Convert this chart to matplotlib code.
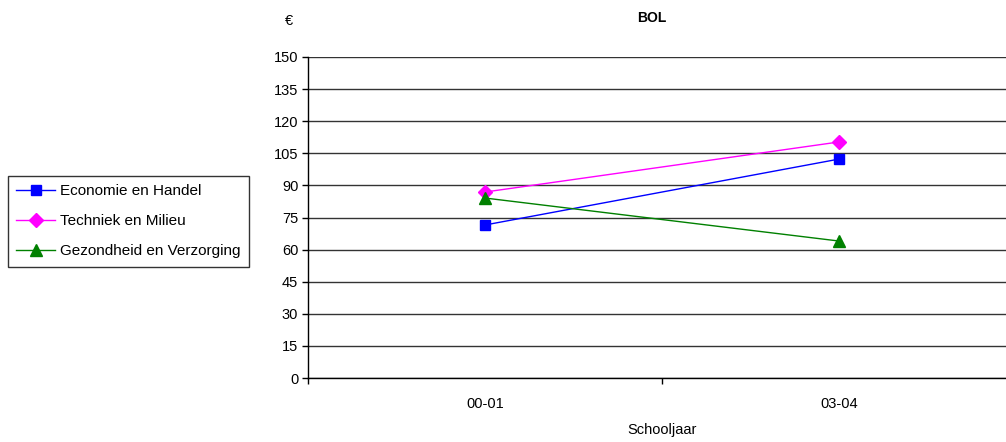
import matplotlib.pyplot as plt
import numpy as np

plt.rcParams['font.family'] = ['Liberation Sans', 'DejaVu Sans']

years = ['00-01', '03-04']
economie = [71.5, 102.3]
techniek = [86.9, 110.3]
gezondheid = [84.1, 64.0]
yticks = list(range(0, 151, 15))

W, H = 1006, 442
fig = plt.figure(figsize=(W / 100, H / 100), dpi=100)
# plot area runs a little past the right edge of the picture
ax = fig.add_axes([308 / W, 1 - 378 / H, (1016 - 308) / W, (378 - 57) / H])

x = np.arange(len(years))
ax.plot(x, economie, color='#0000ff', lw=1, marker='s', ms=7.5, label='Economie en Handel', clip_on=False)
ax.plot(x, techniek, color='#ff00ff', lw=1, marker='D', ms=7, label='Techniek en Milieu', clip_on=False)
ax.plot(x, gezondheid, color='#008000', lw=1, marker='^', ms=8.5, label='Gezondheid en Verzorging', clip_on=False)

ax.set_xlim(-0.5, 1.5)
ax.set_ylim(0, 150)
ax.set_yticks(yticks)
ax.set_xticks(x)
ax.set_xticklabels(years)
ax.set_xticks([-0.5, 0.5, 1.5], minor=True)
ax.tick_params(axis='x', which='major', length=0, pad=14, labelsize=10.5)
ax.tick_params(axis='x', which='minor', length=4, direction='out', width=1)
ax.tick_params(axis='y', length=4, direction='out', width=1, labelsize=10.5, pad=3)
ax.yaxis.grid(True, color='#333333', lw=1)
ax.set_axisbelow(True)
for side in ['top', 'right']:
    ax.spines[side].set_visible(False)
ax.spines['left'].set_linewidth(1)
ax.spines['bottom'].set_linewidth(1)

ax.set_xlabel('Schooljaar', fontsize=10.5, labelpad=8)
fig.text(652 / W, 1 - 18 / H, 'BOL', fontsize=10, fontweight='bold', ha='center', va='center')
fig.text(289 / W, 1 - 21 / H, '€', fontsize=10.5, ha='center', va='center')

leg = fig.legend(loc='upper left', bbox_to_anchor=(8 / W, 1 - 176 / H), borderaxespad=0,
                 fancybox=False, edgecolor='black', fontsize=11, handlelength=2.5,
                 borderpad=0.55, labelspacing=1.05, handletextpad=0.35)
leg.get_frame().set_linewidth(1)

fig.savefig('out.png', dpi=100)
